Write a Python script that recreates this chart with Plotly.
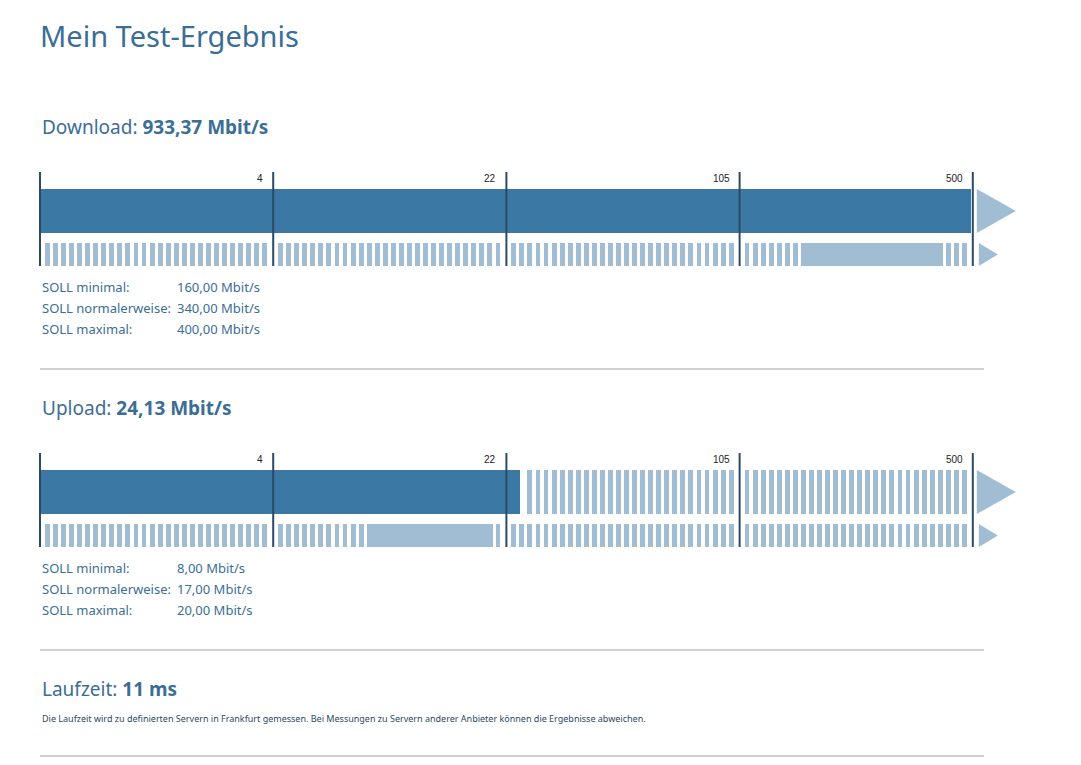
import math
import plotly.graph_objects as go

# ---- data ----
tick_labels = ["4", "22", "105", "500"]
tick_values = [0, 4, 22, 105, 500]
download_measured = 933.37
download_soll = [160.0, 340.0, 400.0]
upload_measured = 24.13
upload_soll = [8.0, 17.0, 20.0]
latency_ms = 11
soll_names = ["SOLL minimal:", "SOLL normalerweise:", "SOLL maximal:"]

DARK = "#3b78a3"
LIGHT = "#a0bdd3"
TICK = "#2b4a66"
TXT = "#3b6e96"
FONT = "Noto Sans"

X0, SEG = 42, 233.2  # pixel start, width per segment


def xpos(v):
    if v >= tick_values[-1]:
        return X0 + 4 * SEG
    for i in range(1, 5):
        lo, hi = tick_values[i - 1], tick_values[i]
        if v <= hi:
            if lo == 0:
                f = v / hi
            else:
                f = math.log(v / lo) / math.log(hi / lo)
            return X0 + (i - 1 + f) * SEG
    return X0 + 4 * SEG


def fmt(v):
    return f"{v:,.2f}".replace(",", "X").replace(".", ",").replace("X", ".")


fig = go.Figure()
shapes = []
ann = []


def stripes(y_top, h, xmin=None):
    xs = []
    for s in range(4):
        a = X0 + s * SEG + 5
        b = X0 + (s + 1) * SEG - 3
        x = a
        while x < b:
            if xmin is None or x > xmin:
                xs.append(x + 2.4)
            x += 8.05
    fig.add_trace(go.Bar(x=xs, y=[h] * len(xs), base=[y_top] * len(xs), width=4.9,
                         marker=dict(color=LIGHT, line_width=0), hoverinfo="skip",
                         showlegend=False))


def block(y0, label, measured, soll):
    ann.append(dict(x=X0, y=y0, xanchor="left", yanchor="middle",
                    text=f"{label}: <b>{fmt(measured)} Mbit/s</b>",
                    font=dict(size=19, color=TXT, family=FONT), showarrow=False))
    bar_top, bar_h = y0 + 62, 44
    row_top, row_h = y0 + 116, 23
    mx = xpos(measured) - (2 if measured >= 500 else 0)
    fig.add_trace(go.Bar(y=[bar_top + bar_h / 2], x=[mx - X0], base=[X0], width=bar_h,
                         orientation="h", marker=dict(color=DARK, line_width=0),
                         hoverinfo="skip", showlegend=False))
    if measured < 500:
        stripes(bar_top, bar_h, xmin=mx + 1)
    stripes(row_top, row_h)
    fig.add_trace(go.Bar(y=[row_top + row_h / 2], x=[xpos(soll[2]) - xpos(soll[0])],
                         base=[xpos(soll[0])], width=row_h, orientation="h",
                         marker=dict(color=LIGHT, line_width=0), hoverinfo="skip",
                         showlegend=False))
    for i in range(5):
        xx = X0 + i * SEG
        shapes.append(dict(type="line", x0=xx, x1=xx, y0=y0 + 45, y1=row_top + row_h,
                           line=dict(color=TICK, width=2)))
        if i > 0:
            ann.append(dict(x=xx - 8, y=y0 + 51, xanchor="right", yanchor="middle",
                            text=tick_labels[i - 1], showarrow=False,
                            font=dict(size=10, color="#222", family="Liberation Sans")))
    xe = X0 + 4 * SEG + 4
    shapes.append(dict(type="path", path=f"M {xe},{bar_top} L {xe+39},{bar_top+bar_h/2} L {xe},{bar_top+bar_h} Z",
                       fillcolor=LIGHT, line_width=0))
    shapes.append(dict(type="path", path=f"M {xe+2},{row_top} L {xe+21},{row_top+row_h/2} L {xe+2},{row_top+row_h} Z",
                       fillcolor=LIGHT, line_width=0))
    for k in range(3):
        yy = y0 + 160 + 21 * k
        ann.append(dict(x=X0, y=yy, xanchor="left", yanchor="middle", text=soll_names[k],
                        showarrow=False, font=dict(size=13, color=TXT, family=FONT)))
        ann.append(dict(x=177, y=yy, xanchor="left", yanchor="middle", text=f"{fmt(soll[k])} Mbit/s",
                        showarrow=False, font=dict(size=13, color=TXT, family=FONT)))
    shapes.append(dict(type="line", x0=X0, x1=986, y0=y0 + 242, y1=y0 + 242,
                       line=dict(color="#a0a0a0", width=1)))


block(127, "Download", download_measured, download_soll)
block(408, "Upload", upload_measured, upload_soll)

ann.append(dict(x=40, y=35, xanchor="left", yanchor="middle", text="Mein Test-Ergebnis",
                showarrow=False, font=dict(size=29, color=TXT, family=FONT)))
ann.append(dict(x=X0, y=689, xanchor="left", yanchor="middle",
                text=f"Laufzeit: <b>{latency_ms} ms</b>", showarrow=False,
                font=dict(size=19, color=TXT, family=FONT)))
ann.append(dict(x=X0, y=718, xanchor="left", yanchor="middle",
                text="Die Laufzeit wird zu definierten Servern in Frankfurt gemessen. Bei Messungen zu Servern anderer Anbieter können die Ergebnisse abweichen.",
                showarrow=False, font=dict(size=9, color="#2b4a66", family=FONT)))
shapes.append(dict(type="line", x0=X0, x1=986, y0=756, y1=756, line=dict(color="#a0a0a0", width=1)))

fig.update_layout(
    width=1081, height=765, margin=dict(l=0, r=0, t=0, b=0),
    paper_bgcolor="white", plot_bgcolor="white", barmode="overlay", bargap=0,
    xaxis=dict(range=[10, 1091], visible=False, fixedrange=True),
    yaxis=dict(range=[773, 8], visible=False, fixedrange=True),
    shapes=shapes, annotations=ann,
)
fig.write_html("out.html")
